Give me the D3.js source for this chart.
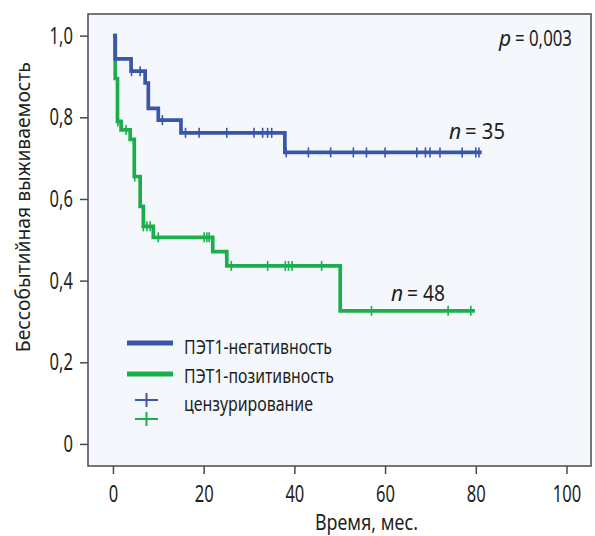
<!DOCTYPE html>
<html>
<head>
<meta charset="utf-8">
<script src="https://cdn.jsdelivr.net/npm/d3@7"></script>
<style>
  html, body { margin: 0; padding: 0; background: #ffffff; }
  svg { display: block; }
  text { font-family: "Noto Sans", "Open Sans", "DejaVu Sans", sans-serif; fill: #231f20; }
</style>
</head>
<body>
<svg id="chart" width="595" height="536"></svg>
<script>
// ---- data ----
// Kaplan–Meier steps: time (months) and survival after each step
const negTimes    = [0, 0.5, 4.0, 7.1, 7.8, 10.0, 15.0, 37.9, 81.3];
const negSurv     = [1, 0.943, 0.913, 0.884, 0.822, 0.793, 0.762, 0.714, 0.714];
const negCensored = [4.1, 6.0, 10.9, 16.0, 19.0, 25.1, 31.1, 33.0, 34.1, 35.0,
                     38.2, 43.1, 48.0, 53.0, 55.9, 60.0, 67.0, 68.9, 69.9, 72.1, 77.0, 80.0, 80.7];

const posTimes    = [0, 0.5, 1.0, 1.8, 3.8, 4.7, 6.0, 6.7, 8.9, 22.0, 25.1, 50.1, 79.8];
const posSurv     = [1, 0.895, 0.790, 0.769, 0.746, 0.655, 0.582, 0.533, 0.506, 0.471, 0.436, 0.326, 0.326];
const posCensored = [1.1, 2.9, 4.8, 6.7, 7.5, 8.2, 10.0, 20.1, 20.7, 21.2, 26.1, 34.1,
                     38.0, 38.7, 39.5, 46.0, 57.0, 73.9, 78.9];

const xTicks = [0, 20, 40, 60, 80, 100];
const yTicks = [0, 0.2, 0.4, 0.6, 0.8, 1.0];
const yTickLabels = ["0", "0,2", "0,4", "0,6", "0,8", "1,0"];

const seriesNames = ["ПЭТ1-негативность", "ПЭТ1-позитивность"];
const censorLabel = "цензурирование";
const nLabels = ["35", "48"];
const pLabel = "0,003";
const xTitle = "Время, мес.";
const yTitle = "Бессобытийная выживаемость";

// ---- drawing ----
const blue = "#3a56a7";
const green = "#1cae4b";
const ink = "#231f20";
const svg = d3.select("#chart");

// condensed look: squeeze a regular font horizontally
function squeeze(sel, k) {
  sel.each(function () {
    const w = this.getComputedTextLength();
    d3.select(this).attr("textLength", w * k).attr("lengthAdjust", "spacingAndGlyphs");
  });
}
function fitTo(sel, w) {
  sel.attr("textLength", w).attr("lengthAdjust", "spacingAndGlyphs");
}

const x = d3.scaleLinear().domain([-5.5, 105.4]).range([88, 591]);
const y = d3.scaleLinear().domain([-0.054, 1.053]).range([466, 14]);

// plot background + frame
svg.append("rect")
  .attr("x", x.range()[0]).attr("y", y.range()[1])
  .attr("width", x.range()[1] - x.range()[0])
  .attr("height", y.range()[0] - y.range()[1])
  .attr("fill", "#f4f8fd")
  .attr("stroke", "#4a4a4a").attr("stroke-width", 1.5);

// axes
const yAxis = d3.axisLeft(y).tickValues(yTicks).tickSize(8).tickPadding(7)
  .tickFormat((d, i) => yTickLabels[i]);
const gy = svg.append("g").attr("transform", `translate(${x.range()[0]},0)`).call(yAxis);
gy.select(".domain").remove();
gy.selectAll(".tick line").attr("stroke", "#4a4a4a").attr("stroke-width", 1.5);
gy.selectAll(".tick text").attr("font-size", 23).attr("fill", ink)
  .attr("font-family", null).style("font-family", "'Noto Sans','Open Sans',sans-serif");
squeeze(gy.selectAll(".tick text"), 0.72);

const xAxis = d3.axisBottom(x).tickValues(xTicks).tickSize(8).tickPadding(12)
  .tickFormat(d => String(d));
const gx = svg.append("g").attr("transform", `translate(0,${y.range()[0]})`).call(xAxis);
gx.select(".domain").remove();
gx.selectAll(".tick line").attr("stroke", "#4a4a4a").attr("stroke-width", 1.5);
gx.selectAll(".tick text").attr("font-size", 23).attr("fill", ink)
  .attr("font-family", null).style("font-family", "'Noto Sans','Open Sans',sans-serif");
squeeze(gx.selectAll(".tick text"), 0.72);

// axis titles
fitTo(svg.append("text")
  .attr("x", 366.5).attr("y", 530)
  .attr("text-anchor", "middle").attr("font-size", 21)
  .text(xTitle), 103);
fitTo(svg.append("text")
  .attr("transform", `translate(30,${y(0.58)}) rotate(-90)`)
  .attr("text-anchor", "middle").attr("font-size", 20)
  .text(yTitle), 290);

// KM curves
function stepSeries(times, surv) { return times.map((t, i) => [t, surv[i]]); }
function survAt(times, surv, t) {
  let v = surv[0];
  for (let i = 0; i < times.length; i++) { if (times[i] <= t) v = surv[i]; }
  return v;
}
const line = d3.line().x(d => x(d[0])).y(d => y(d[1])).curve(d3.curveStepAfter);

const groups = [
  { times: negTimes, surv: negSurv, cens: negCensored, color: blue },
  { times: posTimes, surv: posSurv, cens: posCensored, color: green }
];

[groups[1], groups[0]].forEach(g => {
  svg.append("path")
    .datum(stepSeries(g.times, g.surv))
    .attr("d", line)
    .attr("fill", "none")
    .attr("stroke", g.color)
    .attr("stroke-width", 3.7)
    .attr("stroke-linejoin", "miter");
  svg.append("g").selectAll("line")
    .data(g.cens)
    .join("line")
    .attr("x1", d => x(d)).attr("x2", d => x(d))
    .attr("y1", d => y(survAt(g.times, g.surv, d)) - 5)
    .attr("y2", d => y(survAt(g.times, g.surv, d)) + 5)
    .attr("stroke", g.color).attr("stroke-width", 1.6);
});

// annotations: italic letter and "= value" as two separate texts
function italicLabel(xx, yy, letter, value, w) {
  svg.append("text").attr("x", xx).attr("y", yy).attr("font-size", 21)
    .attr("font-style", "italic").text(letter);
  fitTo(svg.append("text").attr("x", xx + 16).attr("y", yy).attr("font-size", 21)
    .text("= " + value), w);
}
italicLabel(499, 46, "p", pLabel, 57);
italicLabel(449, 139, "n", nLabels[0], 40);
italicLabel(391, 301, "n", nLabels[1], 38);

// legend
const legendItems = [
  { name: seriesNames[0], color: blue, ly: 343, ty: 354, w: 148 },
  { name: seriesNames[1], color: green, ly: 374, ty: 383, w: 150 }
];
legendItems.forEach(it => {
  svg.append("line").attr("x1", 127).attr("x2", 173).attr("y1", it.ly).attr("y2", it.ly)
    .attr("stroke", it.color).attr("stroke-width", 5);
  fitTo(svg.append("text").attr("x", 184).attr("y", it.ty).attr("font-size", 20.5).text(it.name), it.w);
});
[[blue, 400], [green, 419]].forEach(([c, cy]) => {
  svg.append("line").attr("x1", 135).attr("x2", 158).attr("y1", cy).attr("y2", cy)
    .attr("stroke", c).attr("stroke-width", 2);
  svg.append("line").attr("x1", 146.5).attr("x2", 146.5).attr("y1", cy - 7).attr("y2", cy + 7)
    .attr("stroke", c).attr("stroke-width", 2);
});
fitTo(svg.append("text").attr("x", 184).attr("y", 411).attr("font-size", 20.5).text(censorLabel), 129);
</script>
</body>
</html>
